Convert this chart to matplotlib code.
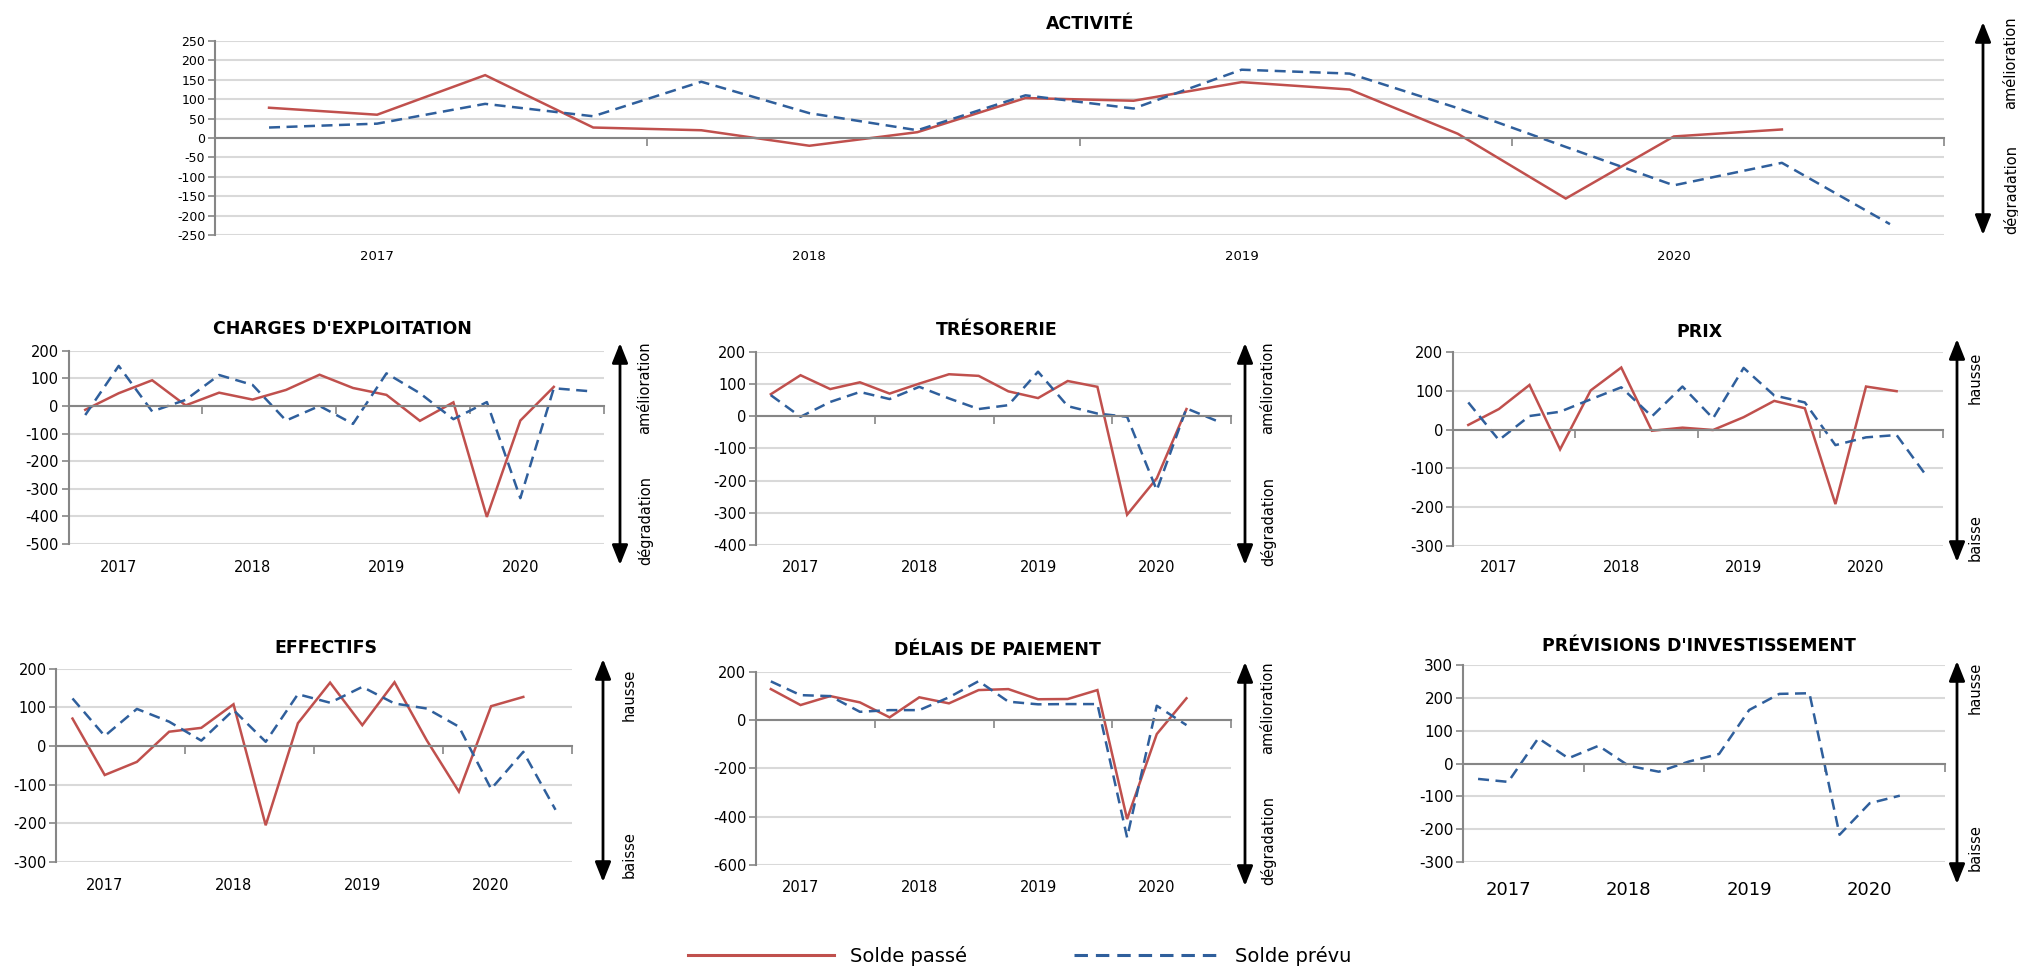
import matplotlib
matplotlib.use("Agg")
import matplotlib.pyplot as plt
import numpy as np
from matplotlib.lines import Line2D
from matplotlib.patches import FancyArrowPatch

W, H = 2018, 971

years = ["2017", "2018", "2019", "2020"]
year_pos = [1, 5, 9, 13]
n_quarters = 16

# Solde passé / Solde prévu, one value per quarter
activite_passe = [78, 60, 162, 27, 20, -20, 15, 103, 96, 144, 125, 11, -156, 4, 22]
activite_prevu = [27, 37, 88, 56, 145, 64, 20, 110, 76, 176, 166, 77, -23, -122, -64, -222]

charges_passe = [-14, 46, 93, 2, 48, 23, 58, 113, 65, 40, -54, 13, -402, -53, 69]
charges_prevu = [-33, 145, -20, 22, 112, 76, -53, 0, -65, 118, 46, -48, 14, -334, 64, 54]

treso_passe = [68, 127, 84, 105, 70, 101, 130, 125, 77, 56, 109, 91, -306, -193, 22]
treso_prevu = [65, -2, 44, 75, 53, 91, 55, 22, 34, 138, 31, 8, -2, -230, 24, -14]

prix_passe = [12, 53, 115, -51, 101, 160, -3, 5, -1, 32, 74, 55, -192, 111, 99]
prix_prevu = [70, -27, 35, 46, 78, 109, 34, 111, 29, 159, 88, 70, -40, -20, -14, -122]

effectifs_passe = [71, -75, -41, 37, 47, 108, -205, 59, 164, 54, 165, 15, -118, 103, 127]
effectifs_prevu = [123, 26, 96, 63, 14, 93, 11, 134, 112, 153, 110, 97, 50, -111, -15, -165]

delais_passe = [128, 62, 99, 73, 11, 94, 69, 124, 128, 86, 87, 124, -410, -58, 90]
delais_prevu = [160, 103, 99, 34, 41, 41, 94, 161, 76, 65, 66, 66, -486, 59, -21]

invest_prevu = [-47, -56, 77, 16, 54, -7, -25, 6, 29, 163, 212, 214, -217, -121, -98]

RED = "#C0504D"
BLUE = "#2F5F9C"
GRID = "#D9D9D9"
AXIS = "#868686"
LW = 1.8
DASH = (4.4, 2.6)

plt.rcParams['font.family'] = ['DejaVu Sans']
plt.rcParams['axes.unicode_minus'] = False

fig = plt.figure(figsize=(W / 100, H / 100), dpi=100)


def fx(x):
    return x / W


def fy(y):
    return 1 - y / H


def panel(box, title, title_xy, passe, prevu, ylim, step, ysize, xsize, year_y,
          arrow, labels, tsize=12.5):
    l, r, t, b = box
    ax = fig.add_axes([fx(l), fy(b), (r - l) / W, (b - t) / H])
    if passe is not None:
        ax.plot(np.arange(len(passe)), passe, color=RED, lw=LW, solid_joinstyle='miter')
    if prevu is not None:
        ax.plot(np.arange(len(prevu)), prevu, color=BLUE, lw=LW, dashes=DASH)
    ax.set_xlim(-0.5, n_quarters - 0.5)
    ax.set_ylim(*ylim)
    ax.set_yticks(np.arange(ylim[0], ylim[1] + 1, step))
    ax.set_xticks(np.arange(-0.5, n_quarters, 4))
    ax.set_xticklabels([])
    ax.yaxis.grid(True, color=GRID, lw=1.5)
    ax.set_axisbelow(True)
    for s in ['top', 'right']:
        ax.spines[s].set_visible(False)
    ax.spines['bottom'].set_position(('data', 0))
    ax.spines['bottom'].set_color(AXIS)
    ax.spines['bottom'].set_linewidth(1.5)
    ax.spines['left'].set_color(AXIS)
    ax.spines['left'].set_linewidth(1.5)
    ax.tick_params(axis='x', direction='out', length=6, color=AXIS, width=1.2)
    ax.tick_params(axis='y', direction='out', length=5, color=AXIS, width=1.2,
                   labelsize=ysize, pad=2)
    # year labels below the plot area
    ya = (b - year_y) / (b - t)
    for p, yr in zip(year_pos, years):
        ax.text(p, ya, yr, transform=ax.get_xaxis_transform(), ha='center',
                va='center', fontsize=xsize)
    fig.text(fx(title_xy[0]), fy(title_xy[1]), title, ha='center', va='center',
             fontsize=tsize, fontweight='bold')
    ax_x, y0, y1 = arrow
    fig.add_artist(FancyArrowPatch((fx(ax_x), fy(y1)), (fx(ax_x), fy(y0)),
                                   transform=fig.transFigure,
                                   arrowstyle="<|-|>,head_length=0.8,head_width=0.32",
                                   mutation_scale=15, lw=2, color='black',
                                   shrinkA=0, shrinkB=0))
    tx, top_txt, top_y, bot_txt, bot_y = labels
    fig.text(fx(tx), fy(top_y), top_txt, rotation=90, ha='center', va='center', fontsize=10.5)
    fig.text(fx(tx), fy(bot_y), bot_txt, rotation=90, ha='center', va='center', fontsize=10.5)
    return ax


panel((215, 1944, 41, 235), "ACTIVITÉ", (1090, 24), activite_passe, activite_prevu,
      (-250, 250), 50, 9, 9.5, 256, (1983, 22, 235),
      (2011, "amélioration", 63, "dégradation", 189))

panel((68.5, 604, 350.7, 544), "CHARGES D'EXPLOITATION", (342.6, 329),
      charges_passe, charges_prevu, (-500, 200), 100, 10.5, 10.5, 567, (620, 343, 565),
      (645, "amélioration", 388, "dégradation", 520))

panel((756, 1231, 351.7, 545), "TRÉSORERIE", (997, 330),
      treso_passe, treso_prevu, (-400, 200), 100, 10.5, 10.5, 567, (1245, 343, 565),
      (1268, "amélioration", 388, "dégradation", 521))

panel((1453, 1942.5, 352, 546), "PRIX", (1699, 332),
      prix_passe, prix_prevu, (-300, 200), 100, 10.5, 10.5, 567, (1957, 339, 562),
      (1975, "hausse", 378, "baisse", 538))

panel((56.4, 571.6, 668.7, 862), "EFFECTIFS", (326, 648),
      effectifs_passe, effectifs_prevu, (-300, 200), 100, 10.5, 10.5, 885, (603, 659, 882),
      (629, "hausse", 695, "baisse", 855))

panel((756, 1231, 671.7, 865), "DÉLAIS DE PAIEMENT", (997, 650),
      delais_passe, delais_prevu, (-600, 200), 200, 10.5, 10.5, 887, (1245, 662, 886),
      (1268, "amélioration", 708, "dégradation", 840))

panel((1463, 1945, 665, 862), "PRÉVISIONS D'INVESTISSEMENT", (1699, 646),
      None, invest_prevu, (-300, 300), 100, 11, 13, 890, (1957, 661, 884),
      (1975, "hausse", 688, "baisse", 848))

handles = [Line2D([], [], color=RED, lw=2.2),
           Line2D([], [], color=BLUE, lw=2.2, dashes=DASH)]
fig.legend(handles, ["Solde passé", "Solde prévu"], loc='center',
           bbox_to_anchor=(fx(1020), fy(956)), ncol=2, frameon=False, fontsize=14,
           handlelength=7.5, handletextpad=0.8, columnspacing=5.5)

fig.savefig("out.png", dpi=100)
